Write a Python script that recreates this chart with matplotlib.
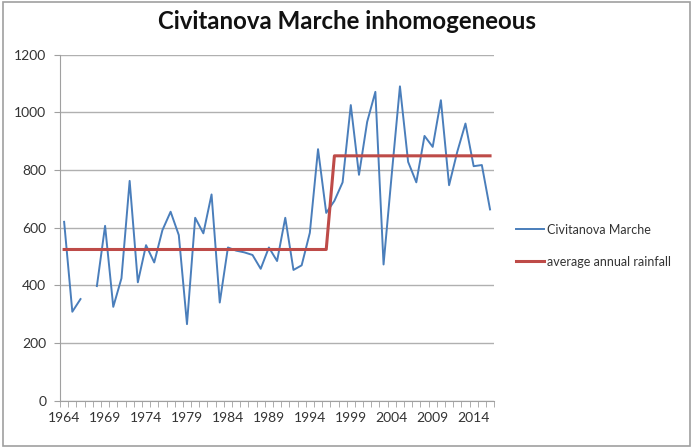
import numpy as np
import matplotlib.pyplot as plt
from matplotlib.patches import Rectangle

# yearly rainfall (mm), 1967 missing
years = list(range(1964, 2017))
rainfall = [620, 308, 352, np.nan, 397, 606, 325, 424, 762, 410,
            539, 479, 591, 655, 574, 265, 634, 580, 715, 340,
            531, 520, 514, 505, 457, 531, 484, 634, 453, 469,
            582, 872, 651, 693, 757, 1025, 783, 967, 1071, 472,
            785, 1090, 828, 757, 918, 880, 1042, 747, 863, 961,
            813, 817, 663]
average = [524] * 33 + [849] * 20

plt.rcParams['font.family'] = ['Lato', 'DejaVu Sans']

fig = plt.figure(figsize=(6.94, 4.48), dpi=100)
ax = fig.add_axes([0.0865, 0.106, 0.6255, 0.772])

x = np.arange(len(years))
ax.plot(x, rainfall, color='#4A7EBB', linewidth=1.4, label='Civitanova Marche')
ax.plot(x, average, color='#BE4B48', linewidth=2.2, label='average annual rainfall')

ax.set_xlim(-0.5, len(years) - 0.5)
ax.set_ylim(0, 1200)
ax.set_yticks(range(0, 1201, 200))
ax.yaxis.grid(True, color='#b0b0b0', linewidth=1)
ax.set_axisbelow(True)

ax.set_xticks(x[::5])
ax.set_xticklabels([str(y) for y in years[::5]])
ax.set_xticks(np.arange(-0.5, len(years), 1), minor=True)
ax.tick_params(axis='x', which='major', length=0, pad=8, labelsize=10, colors='#333333')
ax.tick_params(axis='x', which='minor', length=4, color='#a0a0a0', direction='out')
ax.tick_params(axis='y', length=4, color='#a0a0a0', labelsize=10, labelcolor='#333333', pad=6)

for s in ['top', 'right']:
    ax.spines[s].set_visible(False)
for s in ['left', 'bottom']:
    ax.spines[s].set_color('#a0a0a0')

fig.text(0.5, 0.951, 'Civitanova Marche inhomogeneous', ha='center', va='center',
         fontsize=17.3, fontweight='bold', color='#111111')

leg = ax.legend(loc='center left', bbox_to_anchor=(1.039, 0.448), frameon=False,
                fontsize=9, handlelength=2.2, handletextpad=0.25, labelspacing=1.6,
                borderaxespad=0)
for t in leg.get_texts():
    t.set_color('#333333')

fig.patches.append(Rectangle((0.004, 0.004), 0.99, 0.992, transform=fig.transFigure,
                             fill=False, edgecolor='#a0a0a0', linewidth=1.2))

fig.savefig('out.png', dpi=100)
